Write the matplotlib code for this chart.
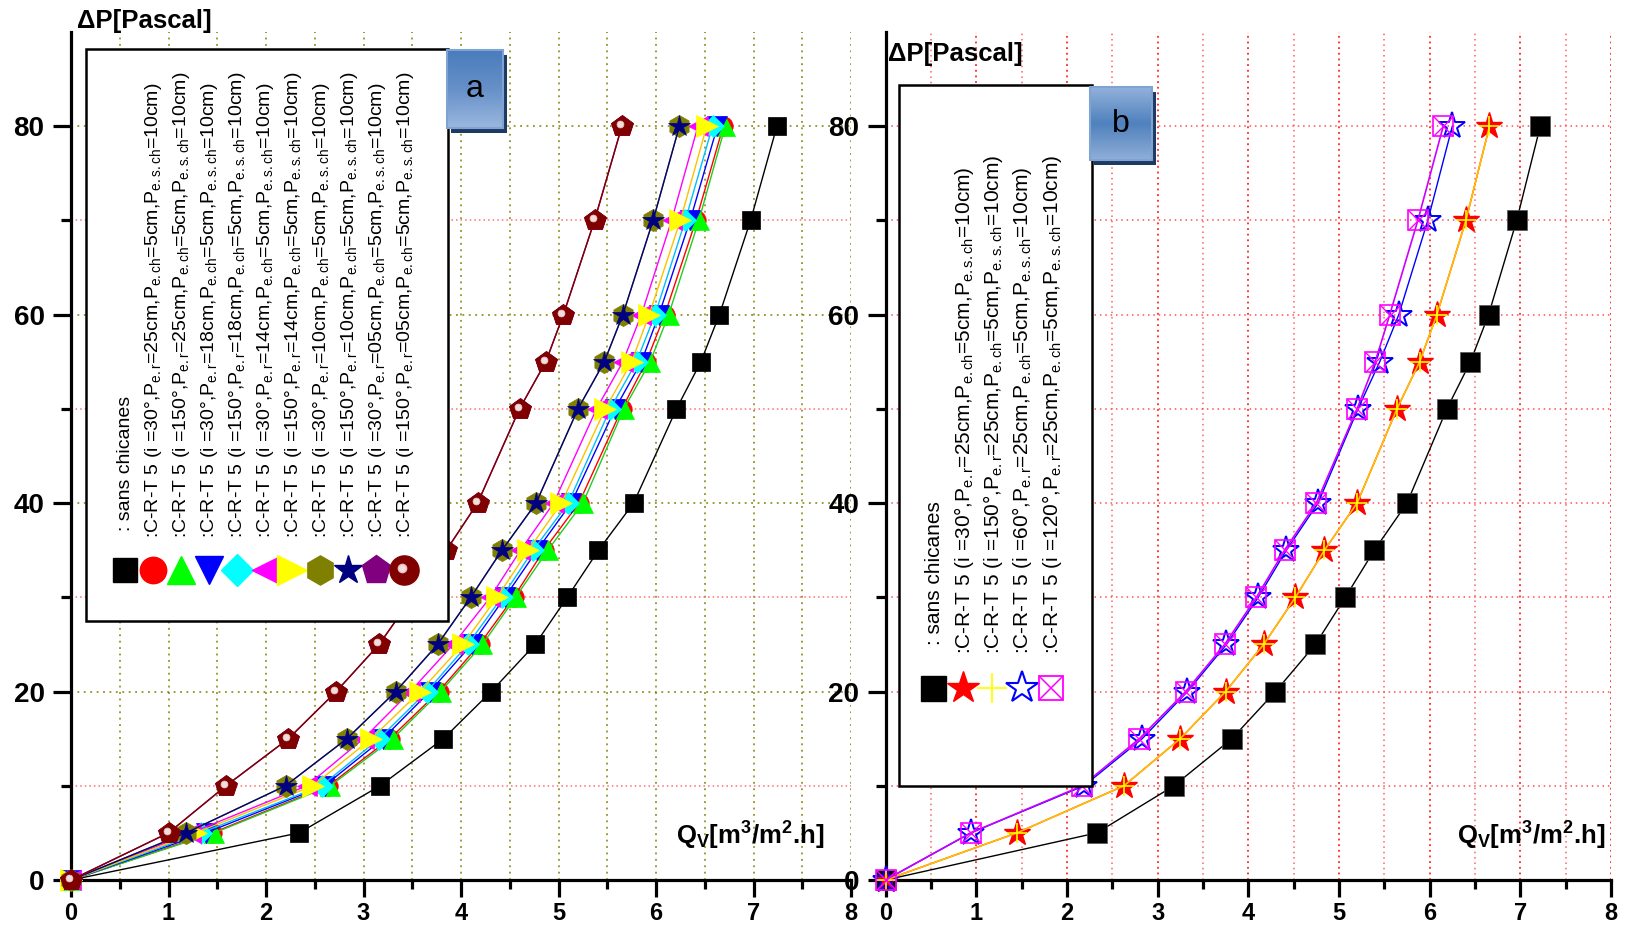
import numpy as np
import matplotlib
matplotlib.use('Agg')
import matplotlib.pyplot as plt
from matplotlib.patches import Rectangle
from matplotlib.colors import LinearSegmentedColormap
from matplotlib.transforms import offset_copy

plt.rcParams['font.family'] = ['Liberation Sans', 'DejaVu Sans']
plt.rcParams['mathtext.fontset'] = 'custom'
plt.rcParams['mathtext.rm'] = 'Liberation Sans'
plt.rcParams['mathtext.bf'] = 'Liberation Sans:bold'
plt.rcParams['mathtext.it'] = 'Liberation Sans:italic'

# pressure drop levels (Pa)
dp = [0, 5, 10, 15, 20, 25, 30, 35, 40, 50, 55, 60, 70, 80]

# --- plot a : flow rate Qv for each configuration
qa_sans = [0, 2.34, 3.17, 3.82, 4.31, 4.76, 5.09, 5.41, 5.77, 6.21, 6.46, 6.65, 6.97, 7.24]
qa_30_25 = [0, 1.45, 2.64, 3.27, 3.77, 4.19, 4.54, 4.85, 5.21, 5.65, 5.90, 6.09, 6.41, 6.69]
qa_150_25 = [0, 1.47, 2.66, 3.30, 3.79, 4.22, 4.56, 4.89, 5.25, 5.67, 5.94, 6.13, 6.44, 6.71]
qa_30_18 = [0, 1.38, 2.60, 3.20, 3.68, 4.11, 4.45, 4.78, 5.13, 5.58, 5.85, 6.03, 6.35, 6.63]
qa_150_18 = [0, 1.33, 2.57, 3.16, 3.65, 4.07, 4.42, 4.74, 5.10, 5.53, 5.80, 5.99, 6.30, 6.58]
qa_30_14 = [0, 1.23, 2.42, 3.00, 3.48, 3.92, 4.30, 4.61, 4.95, 5.39, 5.66, 5.85, 6.16, 6.43]
qa_150_14 = [0, 1.28, 2.48, 3.08, 3.58, 4.02, 4.37, 4.69, 5.03, 5.48, 5.75, 5.93, 6.25, 6.52]
qa_30_10 = [0, 1.18, 2.20, 2.83, 3.33, 3.76, 4.10, 4.42, 4.77, 5.20, 5.47, 5.66, 5.97, 6.24]
qa_150_10 = [0, 1.18, 2.20, 2.83, 3.33, 3.76, 4.10, 4.42, 4.77, 5.20, 5.47, 5.66, 5.97, 6.24]
qa_30_05 = [0, 1.00, 1.59, 2.23, 2.72, 3.16, 3.50, 3.85, 4.17, 4.60, 4.87, 5.05, 5.37, 5.65]
qa_150_05 = [0, 1.00, 1.59, 2.23, 2.72, 3.16, 3.50, 3.85, 4.17, 4.60, 4.87, 5.05, 5.37, 5.65]

# --- plot b
qb_sans = [0, 2.33, 3.18, 3.82, 4.30, 4.74, 5.07, 5.39, 5.75, 6.19, 6.45, 6.65, 6.96, 7.22]
qb_30 = [0, 1.45, 2.63, 3.25, 3.75, 4.17, 4.52, 4.84, 5.20, 5.64, 5.89, 6.08, 6.40, 6.66]
qb_150 = [0, 1.45, 2.63, 3.25, 3.75, 4.17, 4.52, 4.84, 5.20, 5.64, 5.89, 6.08, 6.40, 6.66]
qb_60 = [0, 0.94, 2.19, 2.83, 3.33, 3.76, 4.11, 4.42, 4.77, 5.21, 5.45, 5.66, 5.98, 6.25]
qb_120 = [0, 0.94, 2.17, 2.80, 3.31, 3.74, 4.09, 4.40, 4.75, 5.20, 5.40, 5.56, 5.87, 6.15]

labels_a = [": sans chicanes"]
for ang, per in [(30, 25), (150, 25), (30, 18), (150, 18), (30, 14), (150, 14),
                 (30, 10), (150, 10), (30, '05'), (150, '05')]:
    labels_a.append(r":C-R-T 5 (i =%s°,P$_{\mathregular{e.r}}$=%scm,P$_{\mathregular{e.ch}}$=5cm,"
                    r"P$_{\mathregular{e.s.ch}}$=10cm)" % (ang, per))
labels_b = [": sans chicanes"]
for ang in [30, 150, 60, 120]:
    labels_b.append(r":C-R-T 5 (i =%s°,P$_{\mathregular{e.r}}$=25cm,P$_{\mathregular{e.ch}}$=5cm,"
                    r"P$_{\mathregular{e.s.ch}}$=10cm)" % ang)

W, H = 1632, 933
fig = plt.figure(figsize=(W / 100, H / 100), dpi=100)


def px_rect(x0, x1, ytop, ybot):
    return [x0 / W, 1 - ybot / H, (x1 - x0) / W, (ybot - ytop) / H]


axa = fig.add_axes(px_rect(71, 851, 32, 880))
axb = fig.add_axes(px_rect(885.5, 1611, 32, 880))

# style: marker, face, line colour, size
style_a = [('s', 'black', 'black', 13), ('o', 'red', 'red', 14), ('^', '#00FF00', '#22CC22', 15),
           ('v', 'blue', 'blue', 15), ('D', 'cyan', '#00BFFF', 11), ('<', 'magenta', 'magenta', 14),
           ('>', 'yellow', '#FFC000', 16), ('h', '#808000', '#808000', 16), ('*', '#000080', '#000080', 16),
           ('p', '#800080', '#800080', 16), ('p', '#800000', '#800000', 16)]
series_a = [qa_sans, qa_30_25, qa_150_25, qa_30_18, qa_150_18, qa_30_14, qa_150_14,
            qa_30_10, qa_150_10, qa_30_05, qa_150_05]

for q, (m, fc, lc, ms) in zip(series_a, style_a):
    axa.plot(q, dp, color=lc, lw=1.0, marker=m, ms=ms, mfc=fc, mec=fc, mew=0.5, clip_on=False, zorder=3)
# sphere highlight
hl = offset_copy(axa.transData, fig=fig, x=-2, y=2, units='dots')
axa.plot(qa_150_05, dp, ls='none', marker='o', ms=5, mfc='#f3dede', mec='#e8c0c0', mew=0.5,
         transform=hl, clip_on=False, zorder=4)

# plot b
axb.plot(qb_sans, dp, color='black', lw=1.0, marker='s', ms=14, mfc='black', mec='#555555', mew=0.5,
         clip_on=False, zorder=3)
axb.plot(qb_30, dp, color='red', lw=1.0, marker='*', ms=20, mfc='red', mec='red', clip_on=False, zorder=3)
axb.plot(qb_150, dp, color='#FFC000', lw=1.2, marker='+', ms=14, mec='yellow', mew=1.2,
         clip_on=False, zorder=4)
axb.plot(qb_60, dp, color='blue', lw=1.0, marker='*', ms=20, mfc='none', mec='blue', mew=1.4,
         clip_on=False, zorder=3)
axb.plot(qb_120, dp, color='#CC00FF', lw=1.2, marker='s', ms=14, mfc='none', mec='magenta', mew=1.2,
         clip_on=False, zorder=4)
axb.plot(qb_120, dp, ls='none', marker='x', ms=14, mec='magenta', mew=1.0, clip_on=False, zorder=4)

for ax in (axa, axb):
    ax.set_xlim(0, 8)
    ax.set_ylim(0, 90)
    for s in ('top', 'right'):
        ax.spines[s].set_visible(False)
    for s in ('left', 'bottom'):
        ax.spines[s].set_linewidth(2.3)
    ax.set_xticks(range(9))
    ax.set_xticks(np.arange(0.5, 8, 1), minor=True)
    ax.set_yticks([0, 20, 40, 60, 80])
    ax.set_yticks([10, 30, 50, 70], minor=True)
    ax.tick_params(axis='x', which='major', length=12, width=2.3, pad=4, labelsize=17)
    ax.tick_params(axis='x', which='minor', length=6.5, width=2.3)
    ax.tick_params(axis='y', which='major', length=13, width=2.3, pad=6, labelsize=20)
    ax.tick_params(axis='y', which='minor', length=7, width=2.3)
    for t in ax.get_xticklabels() + ax.get_yticklabels():
        t.set_fontweight('bold')
    ax.set_axisbelow(True)

# grid a: olive vertical, olive major / red minor horizontal
axa.grid(True, which='both', axis='x', color='#808000', ls=(0, (1.2, 3)), lw=1.1)
axa.grid(True, which='major', axis='y', color='#808000', ls=(0, (1.2, 3)), lw=1.1)
axa.grid(True, which='minor', axis='y', color='#FF7070', ls=(0, (1, 2)), lw=1.1)
# grid b: red dotted
axb.grid(True, which='major', axis='x', color='#FF0000', ls=(0, (1.2, 2.5)), lw=1.1)
axb.grid(True, which='minor', axis='x', color='#FF6060', ls=(0, (1, 2.5)), lw=1.1)
axb.grid(True, which='both', axis='y', color='#FF5050', ls=(0, (1, 2.5)), lw=1.1)

# axis titles
qlab = r'Q$_{\mathbf{V}}$[m$^{\mathbf{3}}$/m$^{\mathbf{2}}$.h]'
fig.text(676 / W, 1 - 845 / H, qlab, fontsize=18.5, fontweight='bold', ha='left', va='baseline')
fig.text(1457 / W, 1 - 845 / H, qlab, fontsize=18.5, fontweight='bold', ha='left', va='baseline')
fig.text(77 / W, 1 - 28 / H, 'ΔP[Pascal]', fontsize=18.5, fontweight='bold', ha='left', va='baseline')
fig.text(888 / W, 1 - 61 / H, 'ΔP[Pascal]', fontsize=18.5, fontweight='bold', ha='left', va='baseline')

# overlay for legends and tag boxes (pixel coordinates)
ov = fig.add_axes([0, 0, 1, 1], zorder=10)
ov.set_facecolor('none')
ov.axis('off')


def legend_box(x0, x1, y0, y1):
    ov.add_patch(Rectangle((x0, y0), x1 - x0, y1 - y0, facecolor='white', edgecolor='black', lw=1.8))


def tag_box(x0, x1, y0, y1, letter, cols):
    ov.add_patch(Rectangle((x0 + 4, y0 + 5), x1 - x0, y1 - y0, facecolor='#1F3A60', edgecolor='none'))
    cmap = LinearSegmentedColormap.from_list('g', cols)
    grad = np.linspace(0, 1, 64).reshape(-1, 1)
    ov.imshow(grad, cmap=cmap, extent=[x0, x1, y1, y0], origin='upper', aspect='auto', zorder=2)
    ov.add_patch(Rectangle((x0, y0), x1 - x0, y1 - y0, facecolor='none', edgecolor='#7FA3D3', lw=1.5,
                           zorder=3))
    ov.text((x0 + x1) / 2, (y0 + y1) / 2, letter, fontsize=23, ha='center', va='center', zorder=4)


# legend a
legend_box(86, 448, 49, 621)
xa = np.linspace(125, 404, 11)
for i, (x, (m, fc, lc, ms)) in enumerate(zip(xa, style_a)):
    mm = 'o' if i == 10 else m
    ov.plot([x], [570], ls='none', marker=mm, ms=ms + 5 if i else 17, mfc=fc, mec=fc)
ov.plot([xa[10] - 2], [568], ls='none', marker='o', ms=6, mfc='#f3dede', mec='#e8c0c0')
for i, (x, s) in enumerate(zip(xa, labels_a)):
    ov.text(x + 1, 531 if i == 0 else 538, s, rotation=90, ha='center', va='bottom', fontsize=14)
tag_box(447, 503, 50, 128, 'a', ['#4A7CBB', '#6690C9', '#9AB7DE'])

# legend b
legend_box(899, 1092, 85, 786)
xb = np.linspace(933, 1051, 5)
ov.plot([xb[0]], [688], ls='none', marker='s', ms=18, mfc='black', mec='black')
ov.plot([xb[1]], [688], ls='none', marker='*', ms=24, mfc='red', mec='red')
ov.plot([xb[2]], [688], ls='none', marker='+', ms=21, mec='yellow', mew=1.3)
ov.plot([xb[3]], [688], ls='none', marker='*', ms=24, mfc='none', mec='blue', mew=1.5)
ov.plot([xb[4]], [688], ls='none', marker='s', ms=17, mfc='none', mec='magenta', mew=1.3)
ov.plot([xb[4]], [688], ls='none', marker='x', ms=17, mec='magenta', mew=1.1)
for i, (x, s) in enumerate(zip(xb, labels_b)):
    ov.text(x + 1, 645 if i == 0 else 654, s, rotation=90, ha='center', va='bottom', fontsize=15)
tag_box(1090, 1152, 87, 160, 'b', ['#92B1DB', '#4F81BD', '#8FAED8'])

ov.set_xlim(0, W)
ov.set_ylim(H, 0)

fig.savefig('out.png', dpi=100)
